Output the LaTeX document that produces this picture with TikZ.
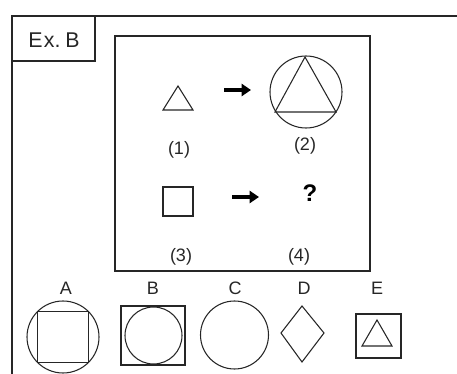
\documentclass[tikz,border=0pt]{standalone}
\usepackage{fontspec}
\setmainfont{Liberation Sans}
\usetikzlibrary{arrows.meta}
\begin{document}
\begin{tikzpicture}[x=0.75pt,y=-0.75pt,
  frame/.style={line width=1.4pt,draw=black!85},
  fig/.style={line width=0.8pt,draw=black!85},
  lbl/.style={font=\fontsize{13.5}{15}\selectfont,inner sep=0pt,text=black!85},
  opt/.style={font=\fontsize{13.5}{15}\selectfont,inner sep=0pt,text=black!85},
  bigarrow/.style={line width=2.6pt,-{Triangle[length=7pt,width=9pt]}}]
\useasboundingbox (0,0) rectangle (457,374);
% outer frame (only top and left visible)
\draw[frame] (457,16) -- (12,16) -- (12,374);
% Ex. B box
\draw[frame] (12,16) rectangle (95,61);
\node[inner sep=0pt,font=\fontsize{16}{18}\selectfont,text=black!85] (exb) at (54,40) {E\kern1pt x.\,\kern1pt B};
% inner box
\draw[frame] (115,36) rectangle (370,271);
% (1) triangle
\draw[fig] (163,110) -- (178,86) -- (193,110) -- cycle;
\node[lbl] (l1) at (179,150) {(1)};
% arrow 1
\coordinate (a1s) at (224,90);
\coordinate (a1e) at (251,90);
\draw[bigarrow] (a1s) -- (a1e);
% (2) circle with triangle
\coordinate (c2) at (306,92);
\draw[fig] (c2) circle[radius=36];
\draw[fig] (305,57) -- (275,112) -- (336,112) -- cycle;
\node[lbl] (l2) at (305,146) {(2)};
% (3) square
\draw[fig] (163,187) rectangle (193,216);
\node[lbl] (l3) at (181,257) {(3)};
% arrow 2
\coordinate (a2s) at (232,197);
\coordinate (a2e) at (259,197);
\draw[bigarrow] (a2s) -- (a2e);
\node[inner sep=0pt,font=\fontsize{18}{20}\selectfont\bfseries] (q) at (310,193) {?};
\node[lbl] (l4) at (299,257) {(4)};
% options
\node[opt] (A) at (66,288) {A};
\node[opt] (B) at (153,288) {B};
\node[opt] (C) at (235,288) {C};
\node[opt] (D) at (304,288) {D};
\node[opt] (E) at (377,288) {E};
% A
\draw[fig] (63,337) circle[radius=36];
\draw[fig] (37.5,311.5) rectangle (88.5,362.5);
% B
\draw[fig] (121,306) rectangle (185,365);
\draw[fig] (153.5,335.5) circle[radius=28.5];
% C
\draw[fig] (234.5,335) circle[radius=34];
% D
\draw[fig] (302,306) -- (324,333) -- (302,362) -- (281,333) -- cycle;
% E
\draw[fig] (356,314) rectangle (401,358);
\draw[fig] (377,320) -- (392,346) -- (362,346) -- cycle;
\end{tikzpicture}
\end{document}
